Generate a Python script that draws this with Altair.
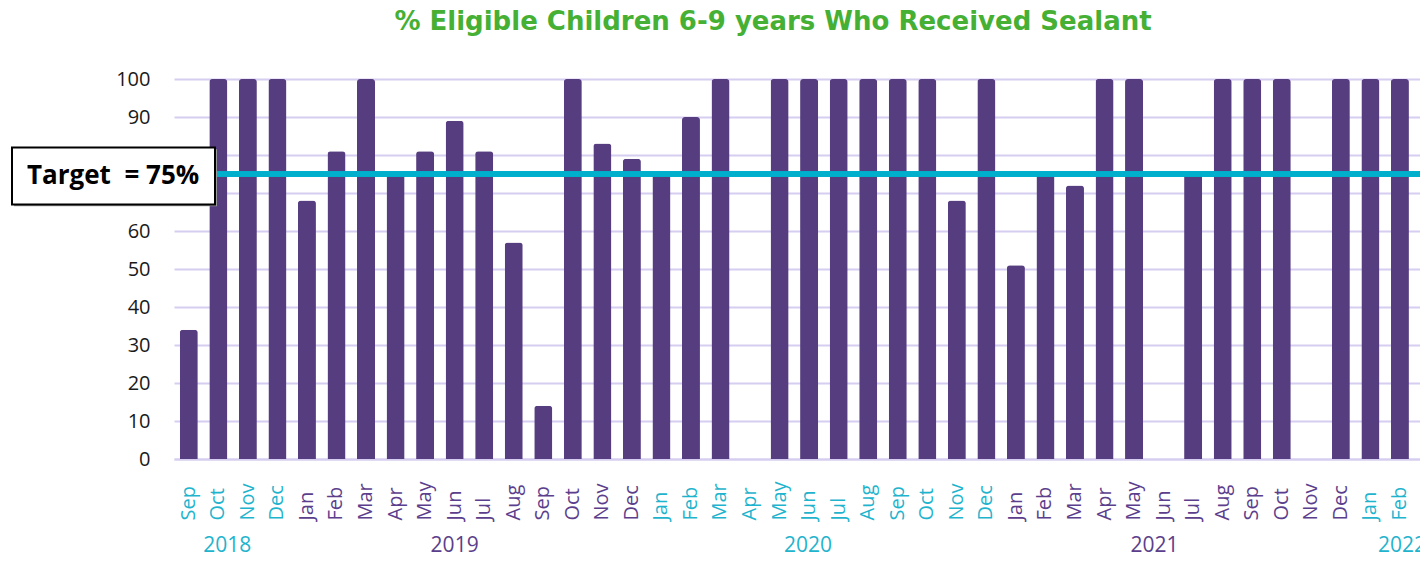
import altair as alt
import pandas as pd

# ---------------- data ----------------
MONTHS = (["Sep", "Oct", "Nov", "Dec"]
          + ["Jan", "Feb", "Mar", "Apr", "May", "Jun", "Jul", "Aug", "Sep", "Oct", "Nov", "Dec"]
          + ["Jan", "Feb", "Mar", "Apr", "May", "Jun", "Jul", "Aug", "Sep", "Oct", "Nov", "Dec"]
          + ["Jan", "Feb", "Mar", "Apr", "May", "Jun", "Jul", "Aug", "Sep", "Oct", "Nov", "Dec"]
          + ["Jan", "Feb", "Mar"])
YEARS = ([2018] * 4 + [2019] * 12 + [2020] * 12 + [2021] * 12 + [2022] * 3)
VALUES = [34, 100, 100, 100,
          68, 81, 100, 75, 81, 89, 81, 57, 14, 100, 83, 79,
          75, 90, 100, 0, 100, 100, 100, 100, 100, 100, 68, 100,
          51, 75, 72, 100, 100, 0, 75, 100, 100, 100, 0, 100,
          100, 100, 100]
TARGET = 75
TARGET_TEXT = "Target\u00a0\u00a0= 75%"
TITLE = "% Eligible Children 6-9 years Who Received Sealant"

YEAR_LABELS = ["2018", "2019", "2020", "2021", "2022"]
YEAR_AT = [1, 9, 21, 33, 41]          # index of month under which the year sits
YEAR_DX = [9, 0, -1, -9, 2]
CYAN_YEARS = ["2018", "2020", "2022"]

# ---------------- style ----------------
BAR = "#563D80"
CYAN = "#1FB4CD"
PURPLE = "#5B3E8C"
GRID = "#D6CEF0"
LINE = "#00AFCB"
GREEN = "#45B034"
FONT = "Open Sans"

keys = [f"{i:02d} {m} {y}" for i, (m, y) in enumerate(zip(MONTHS, YEARS))]
df = pd.DataFrame({"key": keys, "value": VALUES})

STEP = 29.54
W, H = 1246, 380                       # visible plot area (the last band runs past the edge)
xscale = alt.Scale(range=[0, STEP * len(keys)], paddingInner=0.39, paddingOuter=0.195)
yscale = alt.Scale(domain=[0, 100])

cyan_test = "indexof(['2018','2020','2022'], split(datum.value,' ')[2]) >= 0"

XAXIS = alt.Axis(labelExpr="split(datum.value,' ')[1]",
                 labelAngle=-90, labelAlign="left", labelBaseline="middle",
                 labelPadding=61, labelFontSize=20, labelFont=FONT,
                 labelColor={"condition": {"test": cyan_test, "value": CYAN}, "value": PURPLE},
                 ticks=False, domainColor=GRID, domainWidth=2, labelOverlap=False, title=None)
YAXIS = alt.Axis(values=list(range(0, 101, 10)), grid=True, gridColor=GRID, gridWidth=2,
                 domain=False, ticks=False, labelPadding=24, labelFontSize=20,
                 labelFont=FONT, labelColor="#1a1a1a", labelOverlap=False, title=None,
                 labelExpr="datum.value == 70 || datum.value == 80 ? '' : datum.label")

bars = alt.Chart(df).mark_bar(
    color=BAR, cornerRadiusTopLeft=3, cornerRadiusTopRight=3
).encode(
    x=alt.X("key:N", scale=xscale, sort=None, axis=XAXIS),
    y=alt.Y("value:Q", scale=yscale, axis=YAXIS),
)

one = alt.Chart(df).transform_filter("datum.key == '00 Sep 2018'")

target = alt.Chart(df).mark_rule(color=LINE, strokeWidth=4.5).encode(
    y=alt.YDatum(TARGET, axis=YAXIS, scale=yscale))

shadow = one.mark_rect(fill="#9a9a9a").encode(
    x=alt.value(-160), x2=alt.value(43),
    y=alt.YDatum(TARGET + 6.5, axis=YAXIS, scale=yscale), y2=alt.datum(TARGET - 8.5),
)
box = one.mark_rect(fill="white", stroke="black", strokeWidth=2).encode(
    x=alt.value(-162), x2=alt.value(41),
    y=alt.YDatum(TARGET + 7, axis=YAXIS, scale=yscale), y2=alt.datum(TARGET - 8),
)
box_text = one.mark_text(
    align="left", baseline="middle", fontSize=26, fontWeight="bold", font=FONT, color="black"
).encode(x=alt.value(-147), y=alt.YDatum(TARGET - 0.4, axis=YAXIS, scale=yscale),
         text=alt.value(TARGET_TEXT))

title = one.mark_text(
    align="center", baseline="alphabetic", fontSize=26, fontWeight="bold",
    font="DejaVu Sans", color=GREEN,
).encode(x=alt.value(599), y=alt.value(-49), text=alt.value(TITLE))

year_layers = []
for lab, at, dx in zip(YEAR_LABELS, YEAR_AT, YEAR_DX):
    ydf = pd.DataFrame({"key": [keys[at]], "year": [lab]})
    year_layers.append(
        alt.Chart(ydf).mark_text(
            baseline="middle", align="center", fontSize=21, font=FONT, dx=dx,
            color=CYAN if lab in CYAN_YEARS else PURPLE,
        ).encode(
            x=alt.X("key:N", scale=xscale, sort=None, axis=XAXIS),
            y=alt.value(H + 87),
            text="year:N",
        )
    )

chart = alt.layer(
    bars, target, shadow, box, box_text, title, *year_layers,
).properties(
    width=W, height=H,
    autosize=alt.AutoSizeParams(type="none"),
    padding={"left": 166, "top": 71, "right": 0, "bottom": 96},
).configure_view(stroke=None)

chart.save("out.html", embed_options={"renderer": "svg", "actions": False})
